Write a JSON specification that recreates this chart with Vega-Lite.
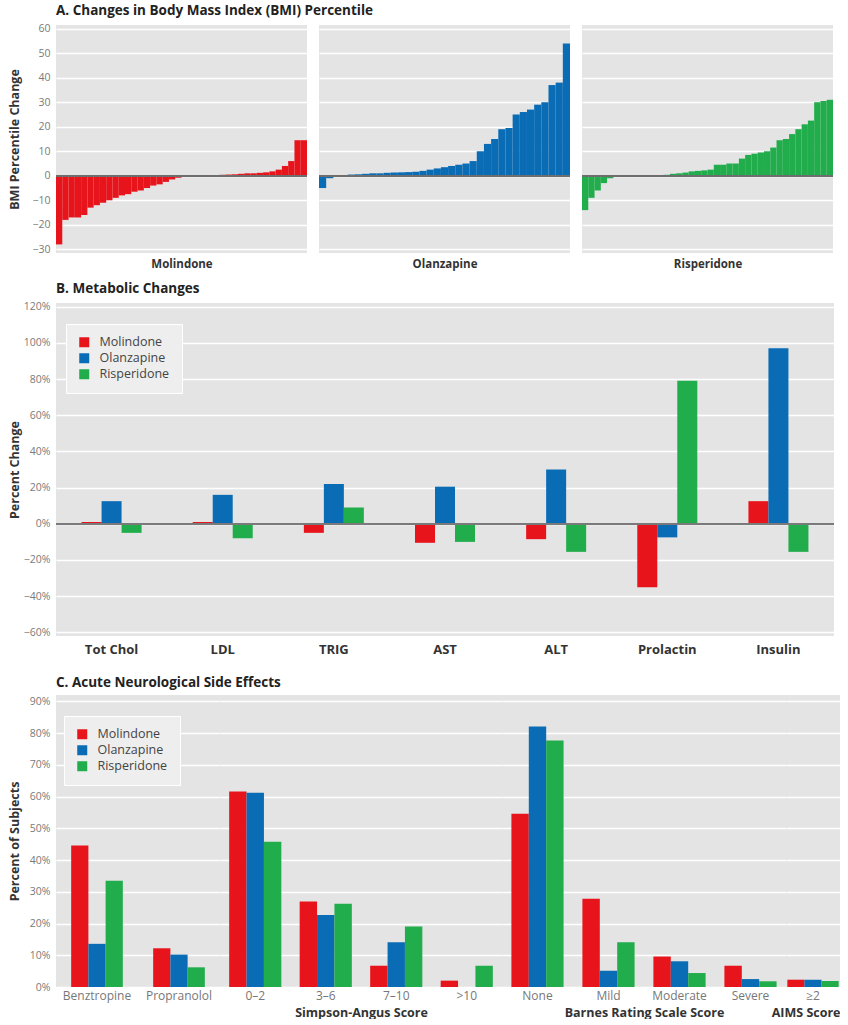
{
  "$schema": "https://vega.github.io/schema/vega-lite/v6.json",
  "background": "white",
  "padding": {"left": 8, "top": 4, "right": 0, "bottom": 0},
  "config": {
    "font": "Open Sans",
    "view": {"fill": "#e4e4e4", "stroke": null},
    "axis": {"domain": false, "ticks": false, "gridColor": "#ffffff", "gridWidth": 1.3, "labelFontSize": 10.5, "labelColor": "#7a7a7a", "labelOverlap": false, "titleFontSize": 12.5, "titleFontWeight": "bold", "titleColor": "#333333"},
    "axisY": {"minExtent": 30, "maxExtent": 30, "labelPadding": 6, "titlePadding": 5, "labelOverlap": false},
    "axisX": {"grid": false},
    "title": {"anchor": "start", "frame": "group", "fontSize": 13.5, "fontWeight": "bold", "color": "#222222", "offset": 6},
    "legend": {"orient": "none", "title": null, "fillColor": "#eeeeee", "strokeColor": "#ffffff", "padding": 12, "symbolType": "square", "symbolSize": 100, "symbolStrokeWidth": 0, "symbolOpacity": 1, "labelFontSize": 12.5, "labelColor": "#444444", "rowPadding": 3, "labelOffset": 9}
  },
  "datasets": {
    "bmi": [
      {"drug":"Molindone","rank":1,"value":-28},{"drug":"Molindone","rank":2,"value":-18},{"drug":"Molindone","rank":3,"value":-17},{"drug":"Molindone","rank":4,"value":-17},{"drug":"Molindone","rank":5,"value":-16},{"drug":"Molindone","rank":6,"value":-13},{"drug":"Molindone","rank":7,"value":-12},{"drug":"Molindone","rank":8,"value":-11},{"drug":"Molindone","rank":9,"value":-10},{"drug":"Molindone","rank":10,"value":-9},
      {"drug":"Molindone","rank":11,"value":-8},{"drug":"Molindone","rank":12,"value":-7.5},{"drug":"Molindone","rank":13,"value":-6.5},{"drug":"Molindone","rank":14,"value":-6},{"drug":"Molindone","rank":15,"value":-5},{"drug":"Molindone","rank":16,"value":-4},{"drug":"Molindone","rank":17,"value":-3.5},{"drug":"Molindone","rank":18,"value":-2.5},{"drug":"Molindone","rank":19,"value":-1.5},{"drug":"Molindone","rank":20,"value":-0.8},
      {"drug":"Molindone","rank":21,"value":-0.3},{"drug":"Molindone","rank":22,"value":0},{"drug":"Molindone","rank":23,"value":0},{"drug":"Molindone","rank":24,"value":0.1},{"drug":"Molindone","rank":25,"value":0.2},{"drug":"Molindone","rank":26,"value":0.3},{"drug":"Molindone","rank":27,"value":0.4},{"drug":"Molindone","rank":28,"value":0.5},{"drug":"Molindone","rank":29,"value":0.6},{"drug":"Molindone","rank":30,"value":0.8},
      {"drug":"Molindone","rank":31,"value":1},{"drug":"Molindone","rank":32,"value":1},{"drug":"Molindone","rank":33,"value":1.2},{"drug":"Molindone","rank":34,"value":1.4},{"drug":"Molindone","rank":35,"value":1.8},{"drug":"Molindone","rank":36,"value":2.5},{"drug":"Molindone","rank":37,"value":4},{"drug":"Molindone","rank":38,"value":6},{"drug":"Molindone","rank":39,"value":14.5},{"drug":"Molindone","rank":40,"value":14.5},
      {"drug":"Olanzapine","rank":1,"value":-5},{"drug":"Olanzapine","rank":2,"value":-1},{"drug":"Olanzapine","rank":3,"value":0.2},{"drug":"Olanzapine","rank":4,"value":0.3},{"drug":"Olanzapine","rank":5,"value":0.5},{"drug":"Olanzapine","rank":6,"value":0.6},{"drug":"Olanzapine","rank":7,"value":0.8},{"drug":"Olanzapine","rank":8,"value":1},{"drug":"Olanzapine","rank":9,"value":1},{"drug":"Olanzapine","rank":10,"value":1.2},
      {"drug":"Olanzapine","rank":11,"value":1.3},{"drug":"Olanzapine","rank":12,"value":1.4},{"drug":"Olanzapine","rank":13,"value":1.5},{"drug":"Olanzapine","rank":14,"value":1.6},{"drug":"Olanzapine","rank":15,"value":2},{"drug":"Olanzapine","rank":16,"value":2.5},{"drug":"Olanzapine","rank":17,"value":3},{"drug":"Olanzapine","rank":18,"value":3.5},{"drug":"Olanzapine","rank":19,"value":4},{"drug":"Olanzapine","rank":20,"value":4.5},
      {"drug":"Olanzapine","rank":21,"value":5},{"drug":"Olanzapine","rank":22,"value":6},{"drug":"Olanzapine","rank":23,"value":10},{"drug":"Olanzapine","rank":24,"value":13},{"drug":"Olanzapine","rank":25,"value":15},{"drug":"Olanzapine","rank":26,"value":19},{"drug":"Olanzapine","rank":27,"value":19.5},{"drug":"Olanzapine","rank":28,"value":25},{"drug":"Olanzapine","rank":29,"value":26},{"drug":"Olanzapine","rank":30,"value":27},
      {"drug":"Olanzapine","rank":31,"value":29},{"drug":"Olanzapine","rank":32,"value":30},{"drug":"Olanzapine","rank":33,"value":37},{"drug":"Olanzapine","rank":34,"value":38},{"drug":"Olanzapine","rank":35,"value":54},
      {"drug":"Risperidone","rank":1,"value":-14},{"drug":"Risperidone","rank":2,"value":-9},{"drug":"Risperidone","rank":3,"value":-6},{"drug":"Risperidone","rank":4,"value":-3},{"drug":"Risperidone","rank":5,"value":-1},{"drug":"Risperidone","rank":6,"value":-0.5},{"drug":"Risperidone","rank":7,"value":0},{"drug":"Risperidone","rank":8,"value":0.1},{"drug":"Risperidone","rank":9,"value":0.1},{"drug":"Risperidone","rank":10,"value":0.2},
      {"drug":"Risperidone","rank":11,"value":0.2},{"drug":"Risperidone","rank":12,"value":0.3},{"drug":"Risperidone","rank":13,"value":0.3},{"drug":"Risperidone","rank":14,"value":0.4},{"drug":"Risperidone","rank":15,"value":0.8},{"drug":"Risperidone","rank":16,"value":1},{"drug":"Risperidone","rank":17,"value":1.3},{"drug":"Risperidone","rank":18,"value":1.8},{"drug":"Risperidone","rank":19,"value":2},{"drug":"Risperidone","rank":20,"value":2.2},
      {"drug":"Risperidone","rank":21,"value":2.5},{"drug":"Risperidone","rank":22,"value":4.5},{"drug":"Risperidone","rank":23,"value":4.5},{"drug":"Risperidone","rank":24,"value":5},{"drug":"Risperidone","rank":25,"value":5},{"drug":"Risperidone","rank":26,"value":7},{"drug":"Risperidone","rank":27,"value":8.5},{"drug":"Risperidone","rank":28,"value":9},{"drug":"Risperidone","rank":29,"value":9.5},{"drug":"Risperidone","rank":30,"value":10},
      {"drug":"Risperidone","rank":31,"value":11.5},{"drug":"Risperidone","rank":32,"value":14.5},{"drug":"Risperidone","rank":33,"value":15},{"drug":"Risperidone","rank":34,"value":17},{"drug":"Risperidone","rank":35,"value":19},{"drug":"Risperidone","rank":36,"value":21},{"drug":"Risperidone","rank":37,"value":22.5},{"drug":"Risperidone","rank":38,"value":30},{"drug":"Risperidone","rank":39,"value":30.5},{"drug":"Risperidone","rank":40,"value":31}
    ],
    "metab": [
      {"test":"Tot Chol","drug":"Molindone","value":0.01},{"test":"Tot Chol","drug":"Olanzapine","value":0.125},{"test":"Tot Chol","drug":"Risperidone","value":-0.05},
      {"test":"LDL","drug":"Molindone","value":0.01},{"test":"LDL","drug":"Olanzapine","value":0.16},{"test":"LDL","drug":"Risperidone","value":-0.08},
      {"test":"TRIG","drug":"Molindone","value":-0.05},{"test":"TRIG","drug":"Olanzapine","value":0.22},{"test":"TRIG","drug":"Risperidone","value":0.09},
      {"test":"AST","drug":"Molindone","value":-0.105},{"test":"AST","drug":"Olanzapine","value":0.205},{"test":"AST","drug":"Risperidone","value":-0.1},
      {"test":"ALT","drug":"Molindone","value":-0.085},{"test":"ALT","drug":"Olanzapine","value":0.3},{"test":"ALT","drug":"Risperidone","value":-0.155},
      {"test":"Prolactin","drug":"Molindone","value":-0.35},{"test":"Prolactin","drug":"Olanzapine","value":-0.075},{"test":"Prolactin","drug":"Risperidone","value":0.79},
      {"test":"Insulin","drug":"Molindone","value":0.125},{"test":"Insulin","drug":"Olanzapine","value":0.97},{"test":"Insulin","drug":"Risperidone","value":-0.155}
    ],
    "neuro": [
      {"section":"Medication","cat":"Benztropine","drug":"Molindone","value":0.446},{"section":"Medication","cat":"Benztropine","drug":"Olanzapine","value":0.136},{"section":"Medication","cat":"Benztropine","drug":"Risperidone","value":0.335},
      {"section":"Medication","cat":"Propranolol","drug":"Molindone","value":0.122},{"section":"Medication","cat":"Propranolol","drug":"Olanzapine","value":0.102},{"section":"Medication","cat":"Propranolol","drug":"Risperidone","value":0.062},
      {"section":"SAS","cat":"0–2","drug":"Molindone","value":0.616},{"section":"SAS","cat":"0–2","drug":"Olanzapine","value":0.612},{"section":"SAS","cat":"0–2","drug":"Risperidone","value":0.458},
      {"section":"SAS","cat":"3–6","drug":"Molindone","value":0.269},{"section":"SAS","cat":"3–6","drug":"Olanzapine","value":0.227},{"section":"SAS","cat":"3–6","drug":"Risperidone","value":0.262},
      {"section":"SAS","cat":"7–10","drug":"Molindone","value":0.067},{"section":"SAS","cat":"7–10","drug":"Olanzapine","value":0.141},{"section":"SAS","cat":"7–10","drug":"Risperidone","value":0.191},
      {"section":"SAS","cat":">10","drug":"Molindone","value":0.02},{"section":"SAS","cat":">10","drug":"Olanzapine","value":0},{"section":"SAS","cat":">10","drug":"Risperidone","value":0.067},
      {"section":"BARS","cat":"None","drug":"Molindone","value":0.546},{"section":"BARS","cat":"None","drug":"Olanzapine","value":0.821},{"section":"BARS","cat":"None","drug":"Risperidone","value":0.777},
      {"section":"BARS","cat":"Mild","drug":"Molindone","value":0.278},{"section":"BARS","cat":"Mild","drug":"Olanzapine","value":0.051},{"section":"BARS","cat":"Mild","drug":"Risperidone","value":0.141},
      {"section":"BARS","cat":"Moderate","drug":"Molindone","value":0.096},{"section":"BARS","cat":"Moderate","drug":"Olanzapine","value":0.081},{"section":"BARS","cat":"Moderate","drug":"Risperidone","value":0.044},
      {"section":"BARS","cat":"Severe","drug":"Molindone","value":0.067},{"section":"BARS","cat":"Severe","drug":"Olanzapine","value":0.025},{"section":"BARS","cat":"Severe","drug":"Risperidone","value":0.018},
      {"section":"AIMS","cat":"≥2","drug":"Molindone","value":0.023},{"section":"AIMS","cat":"≥2","drug":"Olanzapine","value":0.023},{"section":"AIMS","cat":"≥2","drug":"Risperidone","value":0.019}
    ]
  },
  "spacing": 12,
  "resolve": {"legend": {"color": "independent"}},
  "vconcat": [
    {
      "hconcat": [
        {
          "title": {"text": "A. Changes in Body Mass Index (BMI) Percentile"},
          "width": 251, "height": 228,
          "data": {"name": "bmi"},
          "transform": [{"filter": "datum.drug == 'Molindone'"}],
          "layer": [
            {"mark": "bar", "encoding": {
              "x": {"field": "rank", "type": "ordinal", "scale": {"paddingInner": 0, "paddingOuter": 0}, "axis": {"labels": false, "title": "Molindone", "titleFontSize": 11.5, "titlePadding": 5}},
              "y": {"field": "value", "type": "quantitative", "scale": {"domain": [-31.5, 61.5], "nice": false}, "axis": {"values": [-30,-20,-10,0,10,20,30,40,50,60], "labelOverlap": false, "title": "BMI Percentile Change"}},
              "color": {"field": "drug", "type": "nominal", "scale": {"domain": ["Molindone","Olanzapine","Risperidone"], "range": ["#e8141c","#0a6cb5","#21ad4b"]}, "legend": null}
            }},
            {"mark": {"type": "rule", "color": "#6e6e6e", "strokeWidth": 1.5}, "encoding": {"y": {"datum": 0, "type": "quantitative", "axis": {"values": [-30,-20,-10,0,10,20,30,40,50,60], "labelOverlap": false, "title": "BMI Percentile Change"}}}}
          ]
        },
        {
          "width": 251, "height": 228,
          "data": {"name": "bmi"},
          "transform": [{"filter": "datum.drug == 'Olanzapine'"}],
          "layer": [
            {"mark": "bar", "encoding": {
              "x": {"field": "rank", "type": "ordinal", "scale": {"paddingInner": 0, "paddingOuter": 0}, "axis": {"labels": false, "title": "Olanzapine", "titleFontSize": 11.5, "titlePadding": 5}},
              "y": {"field": "value", "type": "quantitative", "scale": {"domain": [-31.5, 61.5], "nice": false}, "axis": {"values": [-30,-20,-10,0,10,20,30,40,50,60], "labels": false, "title": null}},
              "color": {"field": "drug", "type": "nominal", "scale": {"domain": ["Molindone","Olanzapine","Risperidone"], "range": ["#e8141c","#0a6cb5","#21ad4b"]}, "legend": null}
            }},
            {"mark": {"type": "rule", "color": "#6e6e6e", "strokeWidth": 1.5}, "encoding": {"y": {"datum": 0, "type": "quantitative", "axis": {"values": [-30,-20,-10,0,10,20,30,40,50,60], "labels": false, "title": null}}}}
          ]
        },
        {
          "width": 251, "height": 228,
          "data": {"name": "bmi"},
          "transform": [{"filter": "datum.drug == 'Risperidone'"}],
          "layer": [
            {"mark": "bar", "encoding": {
              "x": {"field": "rank", "type": "ordinal", "scale": {"paddingInner": 0, "paddingOuter": 0}, "axis": {"labels": false, "title": "Risperidone", "titleFontSize": 11.5, "titlePadding": 5}},
              "y": {"field": "value", "type": "quantitative", "scale": {"domain": [-31.5, 61.5], "nice": false}, "axis": {"values": [-30,-20,-10,0,10,20,30,40,50,60], "labels": false, "title": null}},
              "color": {"field": "drug", "type": "nominal", "scale": {"domain": ["Molindone","Olanzapine","Risperidone"], "range": ["#e8141c","#0a6cb5","#21ad4b"]}, "legend": null}
            }},
            {"mark": {"type": "rule", "color": "#6e6e6e", "strokeWidth": 1.5}, "encoding": {"y": {"datum": 0, "type": "quantitative", "axis": {"values": [-30,-20,-10,0,10,20,30,40,50,60], "labels": false, "title": null}}}}
          ]
        }
      ],
      "spacing": 12,
      "bounds": "flush"
    },
    {
      "title": {"text": "B. Metabolic Changes"},
      "width": 778, "height": 333,
      "data": {"name": "metab"},
      "layer": [
        {"mark": "bar", "encoding": {
          "x": {"field": "test", "type": "nominal", "sort": ["Tot Chol","LDL","TRIG","AST","ALT","Prolactin","Insulin"], "scale": {"paddingInner": 0.46, "paddingOuter": 0.23}, "axis": {"title": null, "labelAngle": 0, "labelFontSize": 13, "labelFontWeight": "bold", "labelColor": "#333333", "labelPadding": 7, "minExtent": 27}},
          "xOffset": {"field": "drug", "type": "nominal", "sort": ["Molindone","Olanzapine","Risperidone"]},
          "y": {"field": "value", "type": "quantitative", "scale": {"domain": [-0.62, 1.22], "nice": false}, "axis": {"values": [-0.6,-0.4,-0.2,0,0.2,0.4,0.6,0.8,1,1.2], "labelOverlap": false, "format": ".0%", "title": "Percent Change"}},
          "color": {"field": "drug", "type": "nominal", "scale": {"domain": ["Molindone","Olanzapine","Risperidone"], "range": ["#e8141c","#0a6cb5","#21ad4b"]}, "legend": {"legendX": 10, "legendY": 21}}
        }},
        {"mark": {"type": "rule", "color": "#7a7a7a", "strokeWidth": 1.5}, "encoding": {"y": {"datum": 0, "type": "quantitative", "axis": {"values": [-0.6,-0.4,-0.2,0,0.2,0.4,0.6,0.8,1,1.2], "labelOverlap": false, "format": ".0%", "title": "Percent Change"}}}}
      ]
    },
    {
      "hconcat": [
        {
          "title": {"text": "C. Acute Neurological Side Effects"},
          "width": 164, "height": 292,
          "data": {"name": "neuro"},
          "transform": [{"filter": "datum.section == 'Medication'"}],
          "mark": "bar",
          "encoding": {
            "x": {"field": "cat", "type": "nominal", "sort": ["Benztropine","Propranolol"], "scale": {"paddingInner": 0.37, "paddingOuter": 0.185}, "axis": {"title": null, "labelAngle": 0, "labelPadding": 3, "labelFontSize": 12, "labelColor": "#777777"}},
            "xOffset": {"field": "drug", "type": "nominal", "sort": ["Molindone","Olanzapine","Risperidone"]},
            "y": {"field": "value", "type": "quantitative", "scale": {"domain": [0, 0.92], "nice": false}, "axis": {"values": [0,0.1,0.2,0.3,0.4,0.5,0.6,0.7,0.8,0.9], "labelOverlap": false, "format": ".0%", "title": "Percent of Subjects"}},
            "color": {"field": "drug", "type": "nominal", "scale": {"domain": ["Molindone","Olanzapine","Risperidone"], "range": ["#e8141c","#0a6cb5","#21ad4b"]}, "legend": {"legendX": 8, "legendY": 21}}
          }
        },
        {
          "width": 282, "height": 292,
          "data": {"name": "neuro"},
          "transform": [{"filter": "datum.section == 'SAS'"}],
          "mark": "bar",
          "encoding": {
            "x": {"field": "cat", "type": "nominal", "sort": ["0–2","3–6","7–10",">10"], "scale": {"paddingInner": 0.26, "paddingOuter": 0.13}, "axis": {"title": "Simpson-Angus Score", "labelAngle": 0, "labelPadding": 3, "labelFontSize": 12, "labelColor": "#777777", "titleFontSize": 12.5, "titlePadding": 5}},
            "xOffset": {"field": "drug", "type": "nominal", "sort": ["Molindone","Olanzapine","Risperidone"]},
            "y": {"field": "value", "type": "quantitative", "scale": {"domain": [0, 0.92], "nice": false}, "axis": {"values": [0,0.1,0.2,0.3,0.4,0.5,0.6,0.7,0.8,0.9], "labels": false, "title": null}},
            "color": {"field": "drug", "type": "nominal", "scale": {"domain": ["Molindone","Olanzapine","Risperidone"], "range": ["#e8141c","#0a6cb5","#21ad4b"]}, "legend": null}
          }
        },
        {
          "width": 284, "height": 292,
          "data": {"name": "neuro"},
          "transform": [{"filter": "datum.section == 'BARS'"}],
          "mark": "bar",
          "encoding": {
            "x": {"field": "cat", "type": "nominal", "sort": ["None","Mild","Moderate","Severe"], "scale": {"paddingInner": 0.265, "paddingOuter": 0.1325}, "axis": {"title": "Barnes Rating Scale Score", "labelAngle": 0, "labelPadding": 3, "labelFontSize": 12, "labelColor": "#777777", "titleFontSize": 12.5, "titlePadding": 5}},
            "xOffset": {"field": "drug", "type": "nominal", "sort": ["Molindone","Olanzapine","Risperidone"]},
            "y": {"field": "value", "type": "quantitative", "scale": {"domain": [0, 0.92], "nice": false}, "axis": {"values": [0,0.1,0.2,0.3,0.4,0.5,0.6,0.7,0.8,0.9], "labels": false, "title": null}},
            "color": {"field": "drug", "type": "nominal", "scale": {"domain": ["Molindone","Olanzapine","Risperidone"], "range": ["#e8141c","#0a6cb5","#21ad4b"]}, "legend": null}
          }
        },
        {
          "width": 54, "height": 292,
          "data": {"name": "neuro"},
          "transform": [{"filter": "datum.section == 'AIMS'"}],
          "mark": "bar",
          "encoding": {
            "x": {"field": "cat", "type": "nominal", "sort": ["≥2"], "scale": {"paddingInner": 0.05, "paddingOuter": 0.025}, "axis": {"title": "AIMS Score", "titleAnchor": "end", "labelAngle": 0, "labelPadding": 3, "labelFontSize": 12, "labelColor": "#777777", "titleFontSize": 12.5, "titlePadding": 5}},
            "xOffset": {"field": "drug", "type": "nominal", "sort": ["Molindone","Olanzapine","Risperidone"]},
            "y": {"field": "value", "type": "quantitative", "scale": {"domain": [0, 0.92], "nice": false}, "axis": {"values": [0,0.1,0.2,0.3,0.4,0.5,0.6,0.7,0.8,0.9], "labels": false, "title": null}},
            "color": {"field": "drug", "type": "nominal", "scale": {"domain": ["Molindone","Olanzapine","Risperidone"], "range": ["#e8141c","#0a6cb5","#21ad4b"]}, "legend": null}
          }
        }
      ],
      "spacing": 0,
      "bounds": "flush",
      "resolve": {"scale": {"xOffset": "independent"}, "legend": {"color": "independent"}}
    }
  ]
}
